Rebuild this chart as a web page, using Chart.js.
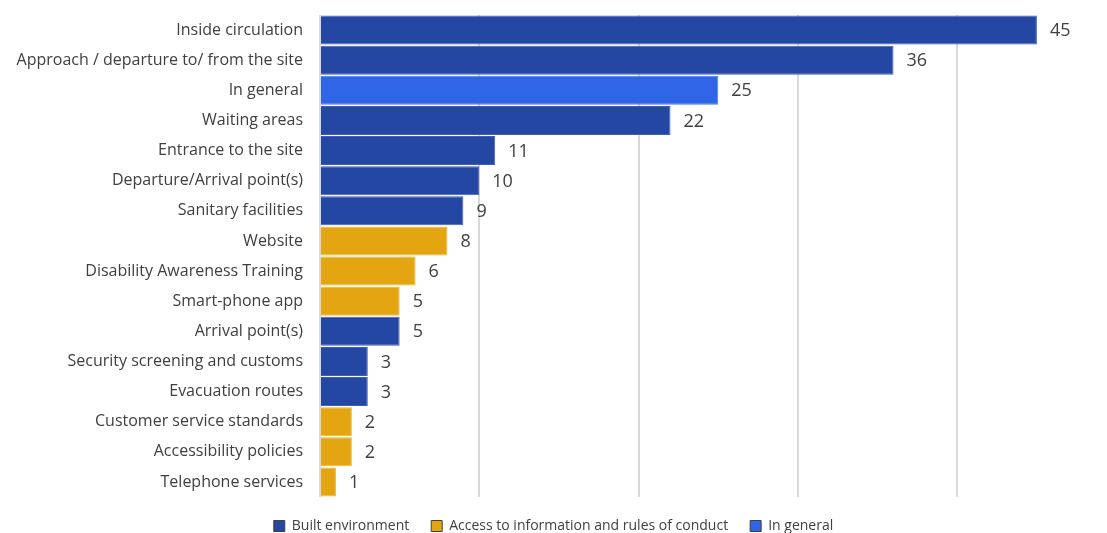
<!DOCTYPE html>
<html>
<head>
<meta charset="utf-8">
<script src="https://cdn.jsdelivr.net/npm/chart.js@4"></script>
<style>
  html, body { margin: 0; padding: 0; background: #fff; }
  #wrap { width: 1107px; height: 533px; }
</style>
</head>
<body>
<div id="wrap"><canvas id="barChart"></canvas></div>
<script>
// categories, top to bottom
const categories = [
    "Inside circulation",
    "Approach / departure to/ from the site",
    "In general",
    "Waiting areas",
    "Entrance to the site",
    "Departure/Arrival point(s)",
    "Sanitary facilities",
    "Website",
    "Disability Awareness Training",
    "Smart-phone app",
    "Arrival point(s)",
    "Security screening and customs",
    "Evacuation routes",
    "Customer service standards",
    "Accessibility policies",
    "Telephone services"
];
const values = [45, 36, 25, 22, 11, 10, 9, 8, 6, 5, 5, 3, 3, 2, 2, 1];
// which group each category belongs to
const groups = ["built", "built", "general", "built", "built", "built", "built", "info",
    "info", "info", "built", "built", "built", "info", "info", "info"];
const seriesNames = ["Built environment", "Access to information and rules of conduct", "In general"];
const seriesKeys = ["built", "info", "general"];
const seriesColors = ["#2447A3", "#E3A612", "#2F66E8"];
const seriesBorders = ["#3E5FB8", "#F0B530", "#4A7BF0"];

function seriesData(key) {
    return values.map(function(v, i) { return groups[i] === key ? v : null; });
}

const datasets = seriesKeys.map(function(key, k) {
    return {
        label: seriesNames[k],
        data: seriesData(key),
        backgroundColor: seriesColors[k],
        borderColor: seriesBorders[k],
        borderWidth: 1,
        barPercentage: 0.96,
        categoryPercentage: 1.0
    };
});

// draws the value right after each bar
const valueLabels = {
    id: 'valueLabels',
    afterDatasetsDraw: function(chart) {
        const ctx = chart.ctx;
        ctx.save();
        ctx.font = '18px "Open Sans", sans-serif';
        ctx.fillStyle = '#404040';
        ctx.textBaseline = 'middle';
        ctx.textAlign = 'left';
        chart.data.datasets.forEach(function(ds, di) {
            const meta = chart.getDatasetMeta(di);
            meta.data.forEach(function(bar, i) {
                if (ds.data[i] === null) return;
                ctx.fillText(String(ds.data[i]), bar.x + 13, bar.y + 1);
            });
        });
        ctx.restore();
    }
};

// pull the legend a bit closer to the bottom edge
const tightLegend = {
    id: 'tightLegend',
    afterInit: function(chart) {
        const legend = chart.legend;
        const origFit = legend.fit;
        legend.fit = function() {
            origFit.call(this);
            this.height -= 10;
        };
    }
};

const ctx = document.getElementById('barChart').getContext('2d');
const myChart = new Chart(ctx, {
    type: 'bar',
    data: { labels: categories, datasets: datasets },
    options: {
        indexAxis: 'y',
        responsive: true,
        maintainAspectRatio: false,
        animation: false,
        layout: { padding: { top: 15, right: 0, left: 0, bottom: 0 } },
        scales: {
            x: {
                stacked: true,
                min: 0,
                max: 49.4,
                afterFit: function(scale) { scale.height = 0; },
                ticks: { display: false, stepSize: 10 },
                border: { display: false },
                grid: {
                    drawTicks: false,
                    lineWidth: 2,
                    color: function(c) {
                        return c.tick && c.tick.value % 10 !== 0 ? 'rgba(0,0,0,0)' : '#D9D9D9';
                    }
                }
            },
            y: {
                stacked: true,
                afterFit: function(scale) {
                    scale.width = 320;
                    scale.paddingTop = 0;
                    scale.paddingBottom = 0;
                },
                grid: { display: false, drawTicks: false },
                border: { display: false },
                ticks: {
                    padding: 17,
                    color: '#404040',
                    font: { family: '"Open Sans", sans-serif', size: 16 }
                }
            }
        },
        plugins: {
            legend: {
                position: 'bottom',
                labels: {
                    boxWidth: 11,
                    boxHeight: 11,
                    padding: 22,
                    color: '#404040',
                    font: { family: '"Liberation Sans Narrow", "Open Sans", sans-serif', size: 14 },
                    generateLabels: function(chart) {
                        return chart.data.datasets.map(function(ds, i) {
                            return {
                                text: ds.label,
                                fillStyle: ds.backgroundColor,
                                strokeStyle: '#404040',
                                lineWidth: 1,
                                fontColor: '#404040',
                                datasetIndex: i
                            };
                        });
                    }
                }
            },
            tooltip: { enabled: false }
        }
    },
    plugins: [valueLabels, tightLegend]
});
</script>
</body>
</html>
